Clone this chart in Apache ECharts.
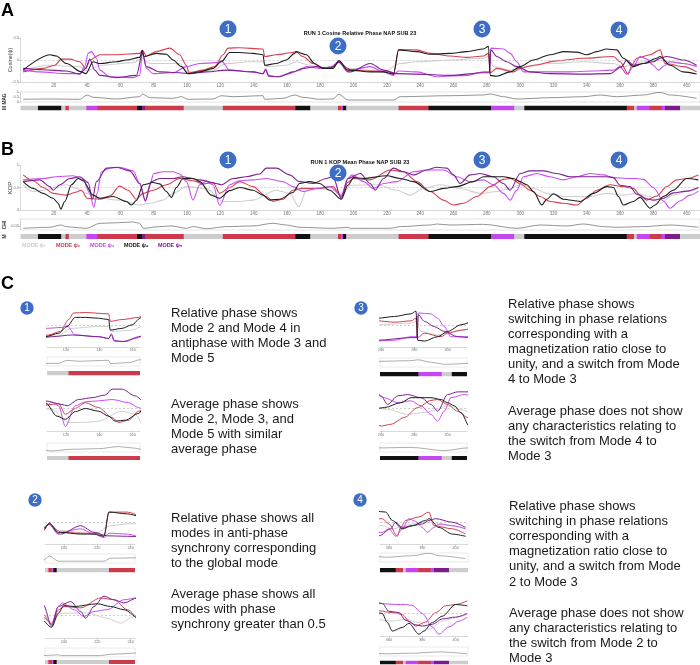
<!DOCTYPE html>
<html><head><meta charset="utf-8">
<script src="https://cdn.jsdelivr.net/npm/echarts@6/dist/echarts.min.js"></script>
<style>html,body{margin:0;padding:0;background:#fff}#c{width:700px;height:665px}</style>
</head><body><div id="c"></div>
<script>
// ---------------- DATA ----------------
const mainTicks = [20,40,60,80,100,120,140,160,180,200,220,240,260,280,300,320,340,360,380,400];
const relTicks = [-0.5, 0, 0.5];
const kopTicks = [0, 0.5, 1];
const magTicks = [0, 0.5, 1];
const chiTicks = [0, 0.05, 0.1];

// Cosine relative phase (panel A) [time, value]
const relGray = [[1.6,-0.23],[17.6,-0.12],[35.6,-0.15],[39.6,-0.25],[47.6,-0.12],[67.6,-0.06],[73.2,0.04],[77.6,-0.08],[95.6,-0.08],[100.6,-0.27],[115.6,-0.23],[123.6,-0.08],[137.6,-0.04],[145.6,-0.04],[147.6,-0.15],[159.6,-0.12],[165.6,-0.04],[173.6,-0.12],[183.6,-0.19],[191.2,-0.06],[196.6,-0.23],[198,-0.19],[218,-0.27],[228,-0.08],[238,-0.04],[258,0],[278,0.04],[281,0.08],[284,-0.15],[294,-0.23],[304,-0.15],[318,-0.08],[338,-0.04],[356,-0.08],[362,-0.15],[374,-0.04],[384,0],[390,-0.04],[406,-0.15]];
const relRed = [[1.6,-0.27],[13.6,-0.19],[20.6,-0.12],[24.6,0.02],[29.6,0.02],[35.6,-0.04],[39.2,-0.19],[41.6,0],[47.6,0.12],[57.6,0.12],[71.6,0.15],[73.2,0.22],[75.6,0.09],[81.6,0.19],[89.6,0.27],[95.6,0.12],[99.6,-0.12],[101.2,-0.29],[109.6,-0.23],[116.6,-0.15],[121.6,0.12],[124.6,0.27],[131.6,0.28],[145.6,0.25],[146.6,0.08],[153.6,0.12],[163.6,0.17],[165.2,0.19],[169.6,0.08],[175.6,-0.08],[181.6,-0.19],[187.6,-0.15],[191.2,-0.04],[196.6,-0.19],[198,-0.23],[210,-0.25],[220,-0.25],[224,-0.32],[227,0.23],[238,0.23],[246,0.15],[258,0.09],[268,0.06],[278,0.09],[281,0.15],[282,-0.29],[286,-0.19],[296,-0.27],[300,-0.19],[308,-0.12],[322,-0.02],[338,0.04],[356,0.08],[360,-0.04],[365,-0.32],[367,-0.12],[370,0.04],[378,0.12],[384,0.23],[387,-0.08],[398,-0.15],[406,-0.27]];
const relMag = [[1.6,-0.23],[11.6,-0.27],[27.6,-0.31],[35.6,-0.31],[38.6,-0.15],[40.6,0.15],[42.6,0.19],[45.6,0.04],[47.6,-0.23],[53.6,-0.38],[67.6,-0.4],[71.6,-0.35],[73.2,0.19],[75.6,-0.19],[79.6,-0.31],[91.6,-0.29],[99.6,-0.15],[107.6,-0.08],[117.6,-0.06],[120.6,-0.02],[125.6,-0.23],[139.6,-0.27],[145.6,-0.31],[147.2,-0.2],[149,-0.35],[153.6,-0.38],[161.6,-0.31],[167.6,-0.23],[171.6,-0.15],[179.6,-0.19],[187.6,-0.15],[191.2,-0.02],[196.6,-0.25],[198,-0.23],[210,-0.15],[218,-0.27],[224,-0.35],[227,-0.25],[238,-0.27],[250,-0.38],[268,-0.35],[278,-0.27],[281.6,-0.27],[282.4,0.27],[290,0.25],[294,0.15],[298,-0.04],[302,-0.27],[310,-0.27],[328,-0.27],[344,-0.25],[356,-0.23],[360,-0.15],[364,-0.32],[368,-0.15],[372,0.08],[376,0.02],[380,-0.12],[383,-0.23],[387,-0.12],[390,-0.04],[398,-0.08],[406,-0.15]];
const relPurple = [[1.6,-0.19],[13.6,-0.22],[27.6,-0.25],[35.6,-0.32],[39.2,-0.19],[41.6,0.02],[44.6,-0.23],[47.6,-0.35],[57.6,-0.4],[69.6,-0.35],[73.2,0.15],[75.6,-0.15],[83.6,-0.27],[95.6,-0.29],[101.6,-0.31],[111.6,-0.27],[123.6,-0.23],[139.6,-0.27],[145.6,-0.31],[147.2,-0.22],[149,-0.37],[155.6,-0.38],[163.6,-0.27],[169.6,-0.19],[177.6,-0.15],[185.6,-0.19],[191.2,-0.05],[196.6,-0.27],[198,-0.27],[210,-0.08],[218,-0.23],[226,-0.31],[238,-0.32],[258,-0.35],[278,-0.29],[281.6,-0.29],[282.4,0.23],[286,0.08],[292,-0.04],[298,-0.15],[306,-0.27],[318,-0.31],[338,-0.32],[354,-0.31],[361,-0.15],[364,0],[368,-0.12],[374,-0.08],[380,-0.04],[384,0.04],[388,0.08],[398,0],[406,-0.12]];
const relBlack = [[1.6,-0.23],[17.6,0.12],[21.6,0.09],[27.6,-0.08],[36.6,-0.27],[39.2,-0.31],[43.6,-0.04],[47.6,-0.08],[57.6,-0.04],[63.6,0],[71.6,0.06],[73.2,0.22],[74,0.08],[81.6,0.15],[87.6,0.13],[91.6,0],[96.6,-0.15],[100.6,-0.31],[107.6,-0.27],[115.6,-0.19],[120.6,-0.04],[125.6,0.17],[131.6,0.17],[139.6,0.15],[145.6,0.12],[146.6,-0.12],[153.6,-0.08],[159.6,0],[164.6,0.15],[165.6,0.19],[171.6,0.12],[176.6,-0.08],[181.6,-0.19],[187.6,-0.19],[191.2,-0.02],[196.6,-0.23],[198,-0.23],[210,-0.27],[218,-0.27],[224,-0.32],[227,0.23],[238,0.19],[246,0.13],[258,0.15],[268,0.19],[278,0.25],[281,0.31],[282,-0.35],[286,-0.37],[294,-0.27],[300,-0.15],[308,0],[318,0.12],[326,0.19],[334,0.18],[340,0.12],[346,0.19],[352,0.25],[358,0.23],[362,0.04],[368,-0.15],[374,-0.08],[382,0.04],[384,0.08],[390,-0.12],[398,-0.27],[406,-0.32]];
// magnetization ratio
const magVals = [[1.6,0.27],[17.6,0.3],[35.6,0.27],[40,0.7],[43.6,0.47],[57.6,0.3],[71.6,0.53],[73.2,0.8],[77.6,0.43],[91.6,0.37],[96.6,0.53],[100.6,0.27],[115.6,0.3],[120.6,0.63],[127.6,0.53],[145.6,0.63],[146.6,0.27],[157.6,0.37],[164.6,0.7],[169.6,0.47],[179.6,0.27],[187.6,0.3],[191.2,0.77],[196.6,0.2],[224,0.2],[228,0.53],[258,0.63],[278,0.7],[282,0.8],[290,0.53],[298,0.3],[318,0.43],[338,0.53],[348,0.7],[358,0.53],[374,0.7],[384,0.97],[390,0.7],[406,0.37]];

// KOP mean phase (panel B)
const kopGray = [[1.6,0.56],[7.6,0.41],[13.6,0.44],[27.6,0.56],[33.6,0.48],[39.6,0.37],[47.6,0.26],[59.6,0.22],[71.6,0.11],[77.6,0.15],[85.6,0.22],[91.6,0.37],[99.6,0.52],[111.6,0.48],[121.6,0.19],[131.6,0.19],[139.6,0.22],[153.6,0.44],[161.6,0.37],[167.2,0.07],[171.6,0.43],[179.6,0.48],[187.6,0.44],[192.6,0.31],[198,0.55],[214,0.56],[226,0.44],[234,0.33],[242,0.48],[252,0.56],[264,0.48],[276,0.37],[286,0.41],[294,0.48],[300,0.56],[308,0.48],[316,0.37],[328,0.3],[342,0.3],[352,0.37],[362,0.33],[370,0.37],[378,0.3],[384,0.15],[392,0.33],[400,0.41],[407,0.48]];
const kopRed = [[1.6,0.78],[7.6,0.65],[13.6,0.5],[19.6,0.37],[27.6,0.33],[33.6,0.4],[36.6,0.44],[40,0.26],[47.6,0.24],[53.6,0.31],[59.6,0.53],[64.6,0.44],[69.6,0.24],[73.6,0.37],[79.6,0.44],[87.6,0.56],[95.6,0.7],[103.6,0.65],[109.6,0.58],[115.6,0.61],[119.6,0.37],[125.6,0.5],[131.6,0.63],[139.6,0.52],[147.6,0.3],[151.6,0.19],[157.6,0.24],[163.6,0.44],[169.6,0.48],[179.6,0.48],[187.6,0.52],[192.6,0.3],[196.6,0.62],[200,0.7],[210,0.67],[222,0.89],[230,0.85],[238,0.63],[246,0.41],[254,0.22],[260,0.11],[266,0.15],[274,0.3],[282,0.52],[290,0.68],[294,0.7],[300,0.59],[306,0.44],[312,0.3],[318,0.19],[326,0.15],[334,0.11],[340,0.26],[346,0.44],[354,0.56],[362,0.52],[368,0.48],[372,0.33],[376,0.22],[382,0.31],[388,0.52],[394,0.67],[400,0.7],[407,0.78]];
const kopMag = [[1.6,0.67],[13.6,0.7],[21.6,0.74],[31.6,0.76],[37.6,0.67],[41.6,0.37],[44,0.06],[46,0.37],[48.6,0.85],[53.6,0.93],[59.6,0.95],[67.6,0.87],[71.6,0.59],[75,0.19],[77.6,0.56],[80,0.81],[85.6,0.85],[91.6,0.85],[95.6,0.8],[99.6,0.63],[103.6,0.22],[107.6,0.56],[111.6,0.64],[115.6,0.56],[119.6,0.1],[125.6,0.56],[131.6,0.65],[139.6,0.67],[147.6,0.7],[157.6,0.63],[163.6,0.52],[169.6,0.41],[177.6,0.48],[185.6,0.52],[192.6,0.33],[196.6,0.7],[199,0.78],[206,0.63],[212,0.48],[218,0.59],[226,0.63],[236,0.85],[244,0.89],[254,0.89],[262,0.74],[270,0.63],[278,0.67],[284,0.56],[290,0.37],[294,0.22],[298,0.44],[302,0.74],[310,0.81],[318,0.74],[326,0.67],[334,0.74],[342,0.81],[350,0.78],[356,0.72],[364,0.7],[370,0.7],[374,0.68],[380,0.5],[386,0.2],[390,0.04],[396,0.2],[402,0.33],[407,0.42]];
const kopPurple = [[1.6,0.63],[11.6,0.67],[17.6,0.52],[19.6,0.44],[23.6,0.56],[29.6,0.7],[35.6,0.74],[40.6,0.61],[43.2,0.24],[45.6,0.63],[51.6,0.93],[57.6,0.95],[65.6,0.87],[71.6,0.59],[75,0.21],[78.6,0.63],[83.6,0.7],[91.6,0.7],[97.6,0.74],[107.6,0.67],[117.6,0.59],[120.6,0.56],[127.6,0.7],[135.6,0.74],[143.6,0.8],[147.6,0.93],[153.6,0.93],[161.6,0.78],[167.6,0.63],[175.6,0.59],[183.6,0.7],[187.6,0.74],[192.6,0.26],[196.6,0.7],[204,0.81],[210,0.59],[213,0.44],[218,0.7],[224,0.93],[230,0.85],[236,0.78],[244,0.89],[250,0.95],[256,0.93],[260,0.78],[264,0.59],[270,0.78],[276,0.81],[284,0.74],[290,0.59],[294,0.44],[300,0.81],[306,0.87],[314,0.87],[322,0.81],[330,0.74],[342,0.74],[352,0.74],[356,0.72],[360,0.55],[366,0.52],[370,0.35],[376,0.25],[380,0.22],[386,0.26],[392,0.38],[400,0.42],[407,0.5]];
const kopBlack = [[1.6,0.63],[7.6,0.48],[13.6,0.37],[19.6,0.26],[22.6,0.15],[24.2,0.02],[26.6,0.19],[30.6,0.56],[34.6,0.7],[37.6,0.65],[43.6,0.33],[47.6,0.26],[55.6,0.3],[63.6,0.19],[66.6,0.11],[69.6,0.21],[73.6,0.56],[79.6,0.61],[83.6,0.58],[87.6,0.41],[90.6,0.28],[93.6,0.5],[97.6,0.7],[103.6,0.7],[107.6,0.63],[114.6,0.33],[119.6,0.26],[125.6,0.43],[131.6,0.5],[139.6,0.44],[145.6,0.33],[149.6,0.22],[155.6,0.24],[163.6,0.39],[167.6,0.59],[173.6,0.63],[179.6,0.59],[185.6,0.44],[192.6,0.24],[196.6,0.55],[200,0.72],[206,0.7],[220,0.76],[228,0.7],[236,0.63],[246,0.41],[254,0.48],[262,0.52],[272,0.63],[278,0.74],[290,0.74],[296,0.7],[300,0.63],[304,0.56],[308,0.41],[313,0.11],[316,0.24],[320,0.36],[326,0.24],[336,0.19],[344,0.37],[352,0.52],[356,0.5],[359,0.3],[362,0.11],[368,0.19],[372,0.28],[378,0.04],[381,0.11],[386,0.3],[392,0.44],[400,0.7],[407,0.67]];
// chi
const chiVals = [[1.6,0.023],[17.6,0.037],[24.2,0.068],[27.6,0.046],[31.6,0.037],[39.6,0.023],[47.6,0.091],[59.6,0.1],[67.6,0.11],[71.6,0.091],[73.6,0.023],[83.6,0.046],[90.6,0.055],[99.6,0.023],[103.6,0.046],[111.6,0.018],[123.6,0.046],[139.6,0.055],[151.6,0.091],[159.6,0.068],[167.6,0.037],[187.6,0.023],[196.6,0.037],[198,0.023],[222,0.023],[228,0.046],[246,0.068],[250,0.082],[258,0.068],[278,0.077],[298,0.023],[312,0.068],[328,0.055],[338,0.082],[350,0.046],[358,0.037],[374,0.046],[390,0.068],[407,0.037]];

// mode sequence (start time of each segment and its mode 1..5)
const segStart = [0,10.5,24.5,27,29,39.5,46,70,73,75,98,121.5,165,174,190.6,192.6,193.6,195.6,227,245,282.5,296.5,302.5,364,368.5,370,377.5,385,387,396];
const segMode  = [1,4,1,2,1,3,2,4,5,2,1,2,4,1,2,3,4,1,2,4,3,1,4,2,1,3,2,3,5,1];
const tEnd = 408;

const legendLabels = ['MODE ψ₁','MODE ψ₂','MODE ψ₃','MODE ψ₄','MODE ψ₅'];

// ---------------- STYLE ----------------
const FONT = '"Liberation Sans", Arial, Helvetica, sans-serif';
const MODE_COLORS = ['', '#cdcdcd', '#cd3a4b', '#c445f2', '#111111', '#7b1b8c'];
const LINE_COLORS = {gray:'#d0d0d0', red:'#d6404f', mag:'#c84ff2', purple:'#7d2290', black:'#1e1e1e'};
const BADGE = '#3d6dc5';
const PXT = 679.5 / 408;

const grids = [], xAxes = [], yAxes = [], series = [], graphics = [];

function addGrid(g) {
  const i = grids.length;
  grids.push({left:g.left, top:g.top, width:g.width, height:g.height, show:!!g.border,
    borderColor:'#d5d5d5', borderWidth:0.6, backgroundColor:'transparent'});
  const xt = g.xTicks;
  xAxes.push({type:'value', gridIndex:i, min:g.xMin, max:g.xMax,
    axisLine:{show:!!xt, onZero:false, lineStyle:{color:'#cfcfcf', width:0.8}},
    axisTick:{show:!!xt, customValues:xt||[], length:2.5, lineStyle:{color:'#bbbbbb', width:0.6}},
    axisLabel:{show:!!xt, customValues:xt||[], fontSize:g.xFont||4.5, color:'#777', margin:1.5, fontFamily:FONT},
    splitLine:{show:false}});
  const yt = g.yTicks;
  yAxes.push({type:'value', gridIndex:i, min:g.yMin, max:g.yMax,
    axisLine:{show:!!yt, onZero:false, lineStyle:{color:'#cfcfcf', width:0.8}},
    axisTick:{show:!!yt, customValues:yt||[], length:2, lineStyle:{color:'#bbbbbb', width:0.6}},
    axisLabel:{show:!!yt, customValues:yt||[], fontSize:4, color:'#777', margin:1.5, fontFamily:FONT},
    splitLine:{show:false}});
  return i;
}

function addLines(gi, sets, refY, width) {
  sets.forEach((s, k) => {
    const o = {type:'line', xAxisIndex:gi, yAxisIndex:gi, data:s[0], showSymbol:false, symbol:'none',
      smooth:0.3, smoothMonotone:'x', clip:true, silent:true, z:3+k,
      lineStyle:{color:s[1], width:width}};
    if (k === 0 && refY !== null) {
      o.markLine = {silent:true, symbol:'none', label:{show:false}, animation:false,
        lineStyle:{color:'#bdbdbd', type:[2,2], width:0.7}, data:[{yAxis:refY}]};
    }
    series.push(o);
  });
}

const segData = segStart.map((s, i) => [s, i + 1 < segStart.length ? segStart[i + 1] : tEnd, segMode[i]]);
function renderSeg(params, api) {
  const cs = params.coordSys;
  let a = api.coord([api.value(0), 0])[0];
  let b = api.coord([api.value(1), 0])[0] + 0.4;
  a = Math.max(a, cs.x); b = Math.min(b, cs.x + cs.width);
  if (b <= a) return;
  return {type:'rect', shape:{x:a, y:cs.y, width:b - a, height:cs.height},
    style:{fill:MODE_COLORS[api.value(2)]}};
}
function addBar(gi) {
  series.push({type:'custom', xAxisIndex:gi, yAxisIndex:gi, data:segData, renderItem:renderSeg,
    encode:{x:[0,1]}, silent:true, clip:true});
}

const relSets = [[relGray, LINE_COLORS.gray],[relRed, LINE_COLORS.red],[relMag, LINE_COLORS.mag],[relPurple, LINE_COLORS.purple],[relBlack, LINE_COLORS.black]];
const kopSets = [[kopGray, LINE_COLORS.gray],[kopRed, LINE_COLORS.red],[kopMag, LINE_COLORS.mag],[kopPurple, LINE_COLORS.purple],[kopBlack, LINE_COLORS.black]];

// ---------------- MAIN PANELS ----------------
const ML = 20.5, MW = 679.5;
let gi;
gi = addGrid({left:ML, top:38, width:MW, height:44, xMin:0, xMax:tEnd, yMin:-0.5, yMax:0.5, xTicks:mainTicks, yTicks:relTicks});
addLines(gi, relSets, 0, 1.1);
gi = addGrid({left:ML, top:92, width:MW, height:10, xMin:0, xMax:tEnd, yMin:0, yMax:1, yTicks:magTicks, border:true});
addLines(gi, [[magVals, '#666666']], null, 0.7);
gi = addGrid({left:ML, top:105.5, width:MW, height:5, xMin:0, xMax:tEnd, yMin:0, yMax:1});
addBar(gi);

gi = addGrid({left:ML, top:165, width:MW, height:45, xMin:0, xMax:tEnd, yMin:0, yMax:1, xTicks:mainTicks, yTicks:kopTicks});
addLines(gi, kopSets, 0.5, 1.1);
gi = addGrid({left:ML, top:219, width:MW, height:11, xMin:0, xMax:tEnd, yMin:0, yMax:0.15, yTicks:chiTicks, border:true});
addLines(gi, [[chiVals, '#666666']], null, 0.7);
gi = addGrid({left:ML, top:234, width:MW, height:5, xMin:0, xMax:tEnd, yMin:0, yMax:1});
addBar(gi);

// ---------------- PANEL C ZOOMS ----------------
const zooms = [
  {left:47, width:93, tMin:108.6, ticks:[120,140,160], relTop:309, relMax:0.36, magTop:357, bar1:371, kopTop:386, chiTop:443, bar2:456},
  {left:380, width:87, tMin:259.4, ticks:[260,280,300], relTop:309, relMax:0.36, magTop:358, bar1:372, kopTop:386, chiTop:443, bar2:456},
  {left:45, width:90, tMin:188.6, ticks:[200,220,240], relTop:509, relMax:0.3, magTop:554, bar1:568, kopTop:593, chiTop:648, bar2:660},
  {left:380, width:88, tMin:354.6, ticks:[360,380,400], relTop:509, relMax:0.3, magTop:553, bar1:568, kopTop:591, chiTop:647, bar2:660.5}
];
zooms.forEach(z => {
  const xMax = z.tMin + z.width / PXT;
  const base = {left:z.left, width:z.width, xMin:z.tMin, xMax:xMax};
  let g = addGrid(Object.assign({}, base, {top:z.relTop, height:(z.relMax + 0.5) * 44, yMin:-0.5, yMax:z.relMax, xTicks:z.ticks, xFont:3.8}));
  addLines(g, relSets, 0, 1);
  g = addGrid(Object.assign({}, base, {top:z.magTop, height:9, yMin:0, yMax:1}));
  grids[g].show = true; grids[g].borderColor = '#dddddd';
  addLines(g, [[magVals, '#777777']], null, 0.6);
  g = addGrid(Object.assign({}, base, {top:z.bar1, height:4.5, yMin:0, yMax:1}));
  addBar(g);
  g = addGrid(Object.assign({}, base, {top:z.kopTop, height:45, yMin:0, yMax:1, xTicks:z.ticks, xFont:3.8}));
  addLines(g, kopSets, 0.5, 1);
  g = addGrid(Object.assign({}, base, {top:z.chiTop, height:9, yMin:0, yMax:0.15}));
  grids[g].show = true; grids[g].borderColor = '#dddddd';
  addLines(g, [[chiVals, '#777777']], null, 0.6);
  g = addGrid(Object.assign({}, base, {top:z.bar2, height:4, yMin:0, yMax:1}));
  addBar(g);
});

// ---------------- TEXT / GRAPHICS ----------------
function txt(x, y, text, st, extra) {
  graphics.push(Object.assign({type:'text', x:x, y:y, silent:true, z:50,
    style:Object.assign({text:text, fill:'#111', fontFamily:FONT, fontSize:12, textAlign:'left', textVerticalAlign:'middle'}, st)}, extra || {}));
}
function badge(cx, cy, r, n, fs) {
  graphics.push({type:'circle', shape:{cx:cx, cy:cy, r:r}, style:{fill:BADGE}, silent:true, z:60});
  txt(cx, cy + 0.5, String(n), {fill:'#fff', fontSize:fs, textAlign:'center'}, {z:61});
}
// panel letters
txt(1, 11.5, 'A', {fontSize:18, fontWeight:'bold', fill:'#000'});
txt(1, 150, 'B', {fontSize:18, fontWeight:'bold', fill:'#000'});
txt(1, 284, 'C', {fontSize:18, fontWeight:'bold', fill:'#000'});
// titles
txt(360, 33, 'RUN 1 Cosine Relative Phase NAP SUB 23', {fontSize:5.6, fontWeight:'bold', textAlign:'center'});
txt(360, 162, 'RUN 1 KOP Mean Phase NAP SUB 23', {fontSize:5.6, fontWeight:'bold', textAlign:'center'});
// axis names & side labels
txt(10, 60, 'Cosine(ψ)', {fontSize:5.5, fill:'#444', textAlign:'center'}, {rotation:Math.PI/2});
txt(10, 188, 'KOP', {fontSize:6, fill:'#444', textAlign:'center'}, {rotation:Math.PI/2});
txt(5, 99, 'MAG', {fontSize:4.8, fontWeight:'bold', fill:'#333', textAlign:'center'}, {rotation:Math.PI/2});
txt(5, 108, 'M', {fontSize:4.8, fontWeight:'bold', fill:'#333', textAlign:'center'}, {rotation:Math.PI/2});
txt(5, 225, 'CHI', {fontSize:4.8, fontWeight:'bold', fill:'#333', textAlign:'center'}, {rotation:Math.PI/2});
txt(5, 236.5, 'M', {fontSize:4.8, fontWeight:'bold', fill:'#333', textAlign:'center'}, {rotation:Math.PI/2});
// legend
const legX = [22, 56, 90, 124, 158];
legendLabels.forEach((l, i) => txt(legX[i], 246, l, {fontSize:5.4, fontWeight:'bold', fill:[MODE_COLORS[1], MODE_COLORS[2], MODE_COLORS[3], MODE_COLORS[4], MODE_COLORS[5]][i]}));
// badges
[[228,29],[338,46],[482,29],[619,30]].forEach((p, i) => badge(p[0], p[1], 8.5, i + 1, 12));
[[228,160],[338,173],[482,160],[619,160]].forEach((p, i) => badge(p[0], p[1], 8.5, i + 1, 12));
badge(27, 308, 6.7, 1, 10);
badge(361, 308, 6.7, 3, 10);
badge(35, 500, 6.7, 2, 10);
badge(360, 500, 6.7, 4, 10);
// descriptive text
function block(x, top, lines, lh) {
  txt(x, top, lines.join('\n'), {fontSize:13, lineHeight:lh, textVerticalAlign:'top', fill:'#1a1a1a'});
}
block(171, 305.5, ['Relative phase shows','Mode 2 and Mode 4 in','antiphase with Mode 3 and','Mode 5'], 15);
block(171, 396.5, ['Average phase shows','Mode 2, Mode 3, and','Mode 5 with similar','average phase'], 15);
block(508, 296.5, ['Relative phase shows','switching in phase relations','corresponding with a','magnetization ratio close to','unity, and a switch from Mode','4 to Mode 3'], 15.1);
block(508, 403.5, ['Average phase does not show','any characteristics relating to','the switch from Mode 4 to','Mode 3'], 15);
block(171, 510.5, ['Relative phase shows all','modes in anti-phase','synchrony corresponding','to the global mode'], 15);
block(171, 586.5, ['Average phase shows all','modes with phase','synchrony greater than 0.5'], 15);
block(509, 498.5, ['Relative phase shows','switching in phase relations','corresponding with a','magnetization ratio close to','unity, and a switch from Mode','2 to Mode 3'], 15.2);
block(509, 605.5, ['Average phase does not show','any characteristics relating to','the switch from Mode 2 to','Mode 3'], 15);

const chart = echarts.init(document.getElementById('c'), null, {renderer:'canvas'});
chart.setOption({
  animation:false,
  backgroundColor:'#ffffff',
  grid:grids, xAxis:xAxes, yAxis:yAxes, series:series, graphic:graphics
});
</script></body></html>
